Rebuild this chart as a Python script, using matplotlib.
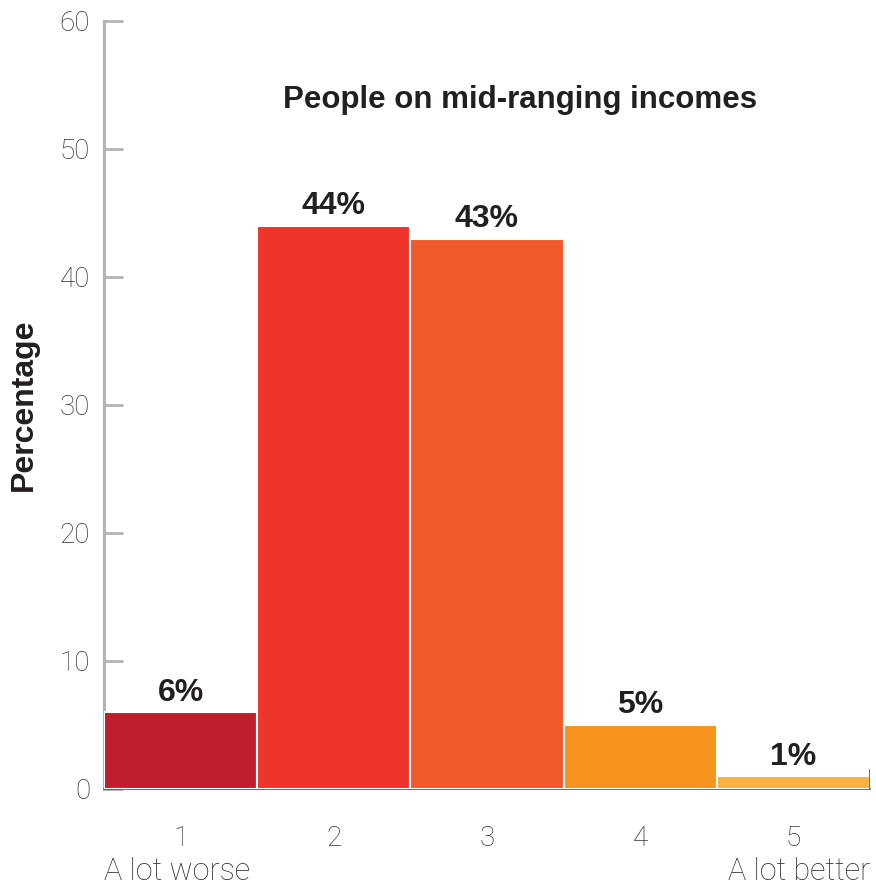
import matplotlib
matplotlib.use("Agg")
import matplotlib.pyplot as plt

categories = ["1", "2", "3", "4", "5"]
values = [6, 44, 43, 5, 1]
value_labels = ["6%", "44%", "43%", "5%", "1%"]
colors = ["#be1e2d", "#ee3529", "#f15a2b", "#f7941d", "#fbb040"]
yticks = [0, 10, 20, 30, 40, 50, 60]
title = "People on mid-ranging incomes"
ylabel = "Percentage"
left_note = "A lot worse"
right_note = "A lot better"

plt.rcParams['font.family'] = ['Roboto', 'DejaVu Sans']
bold_family = ["Liberation Sans", "DejaVu Sans"]
light_color = "#333333"

fig = plt.figure(figsize=(8.76, 8.88), dpi=100)
ax = fig.add_axes([0.1187, 0.1115, 0.8744, 0.865])

x = list(range(1, len(values) + 1))
ax.bar(x, values, width=1.0, color=colors, edgecolor="white", linewidth=1.5, zorder=3)

for xi, v, lab in zip(x, values, value_labels):
    ax.text(xi, v + 0.35, lab, ha="center", va="bottom", fontsize=23,
            fontweight="bold", color="#231f20", family=bold_family)

ax.set_xlim(0.5, 5.5)
ax.set_ylim(0, 60)
ax.set_yticks(yticks)
ax.set_yticklabels([str(t) for t in yticks], fontsize=20, color=light_color, fontweight="light")
ax.tick_params(axis="y", direction="in", length=14, width=2, color="#b3b3b8", pad=10)
ax.set_xticks(x)
ax.set_xticklabels(categories, fontsize=20, color=light_color, fontweight="light")
ax.tick_params(axis="x", length=0, pad=26)

for s in ["top", "right"]:
    ax.spines[s].set_visible(False)
ax.spines["left"].set_color("#b3b3b8")
ax.spines["left"].set_linewidth(2.2)
ax.spines["bottom"].set_color("#555555")
ax.spines["bottom"].set_linewidth(1.2)
ax.axvline(5.5, ymin=0, ymax=0.025, color="#555555", linewidth=1.2, zorder=4)

ax.text(0.0, -0.108, left_note, transform=ax.transAxes, ha="left", va="center",
        fontsize=22, color=light_color, fontweight="light")
ax.text(1.0, -0.108, right_note, transform=ax.transAxes, ha="right", va="center",
        fontsize=22, color=light_color, fontweight="light")

fig.text(0.594, 1 - 100 / 888, title, ha="center", va="center", fontsize=22.5,
         fontweight="bold", color="#231f20", family=bold_family)
ax.set_ylabel(ylabel, fontsize=23, fontweight="bold", color="#231f20",
              family=bold_family, labelpad=15)

fig.savefig("out.png", dpi=100)
